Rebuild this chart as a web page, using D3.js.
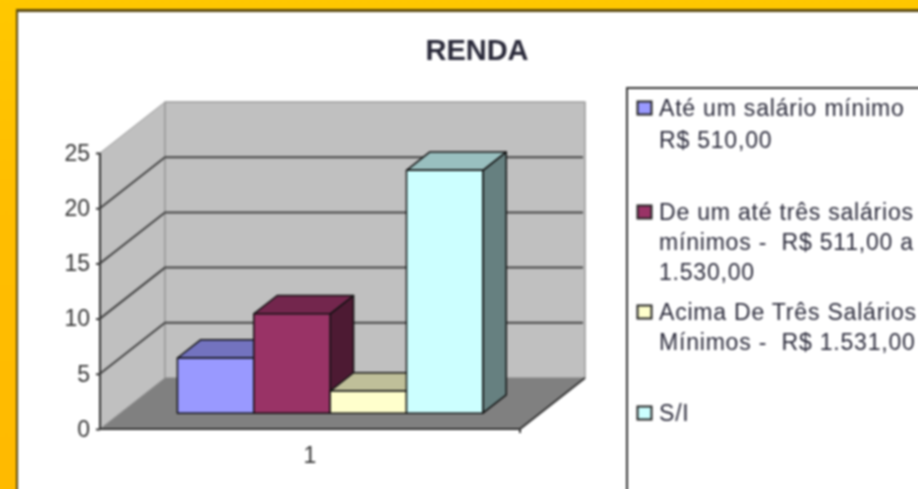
<!DOCTYPE html>
<html lang="pt">
<head>
<meta charset="utf-8">
<title>RENDA</title>
<script src="https://d3js.org/d3.v7.min.js"></script>
<style>
    html, body { margin: 0; padding: 0; overflow: hidden; background: #fff; }
    svg { display: block; font-family: "Liberation Sans", Arial, sans-serif; }
    text { fill: #222; white-space: pre; }
</style>
</head>
<body>
<div id="chart"></div>
<script>
    // values
    var categories = ["Até um salário mínimo", "De um até três salários mínimos", "Acima De Três Salários Mínimos", "S/I"];
    var values = [5, 9, 2, 22];
    var colors = ["#9999ff", "#993366", "#ffffcc", "#ccffff"];
    var yTicks = [0, 5, 10, 15, 20, 25];
    var xLabels = ["1"];
    var legendLines = [
        ["Até um salário mínimo", "R$ 510,00"],
        ["De um até três salários", "mínimos -  R$ 511,00 a", "1.530,00"],
        ["Acima De Três Salários", "Mínimos -  R$ 1.531,00"],
        ["S/I"]
    ];
    var legendRows = [108, 212, 312, 413];

    var width = 918, height = 489;

    var svg = d3.select("#chart").append("svg")
        .attr("width", width).attr("height", height);

    var defs = svg.append("defs");
    var bg = defs.append("linearGradient").attr("id", "bg")
        .attr("x1", 0).attr("y1", 0).attr("x2", 0).attr("y2", 1);
    bg.append("stop").attr("offset", 0).attr("stop-color", "#ffc800");
    bg.append("stop").attr("offset", 0.4).attr("stop-color", "#ffbe00");
    bg.append("stop").attr("offset", 1).attr("stop-color", "#ffba00");

    var page = svg.append("g").style("filter", "blur(0.8px)");

    // frame
    page.append("rect").attr("x", -4).attr("y", -4).attr("width", width + 8).attr("height", height + 8).attr("fill", "url(#bg)");
    page.append("rect").attr("x", 16).attr("y", 9).attr("width", width).attr("height", height)
        .attr("fill", "#5c4a10");
    page.append("rect").attr("x", 18).attr("y", 12).attr("width", width).attr("height", height)
        .attr("fill", "#fff");

    page.append("text").attr("x", 477).attr("y", 60).attr("text-anchor", "middle")
        .style("font-size", "29px").style("font-weight", "bold").style("fill", "#2a2a3a")
        .text("RENDA");

    // scales, front plane of the box
    var x = d3.scaleBand().domain(categories).range([100, 520]).paddingInner(0).paddingOuter(0.75);
    var y = d3.scaleLinear().domain([0, 25]).range([429, 153]);
    var depthX = 65, depthY = -51;

    // oblique projection: v on the value axis, px along x, z from 0 (front) to 1 (back)
    function pt(px, v, z) {
        return [px + z * depthX, y(v) + z * depthY];
    }
    function poly(g, points, fill, stroke, sw) {
        return g.append("polygon")
            .attr("points", points.map(function (p) { return p.join(","); }).join(" "))
            .attr("fill", fill)
            .attr("stroke", stroke || "none")
            .attr("stroke-width", sw || 0)
            .attr("stroke-linejoin", "round");
    }
    function shade(c, k) {
        var r = d3.rgb(c);
        return d3.rgb(r.r * k, r.g * k, r.b * k).formatHex();
    }

    var plot = page.append("g");
    var x0 = 100, x1 = 520;

    // walls and floor
    poly(plot, [pt(x0, 0, 0), pt(x0, 25, 0), pt(x0, 25, 1), pt(x0, 0, 1)], "#c0c0c0", "#999", 1);
    poly(plot, [pt(x0, 0, 1), pt(x0, 25, 1), pt(x1, 25, 1), pt(x1, 0, 1)], "#c0c0c0", "#999", 1.5);
    poly(plot, [pt(x0, 0, 0), pt(x1, 0, 0), pt(x1, 0, 1), pt(x0, 0, 1)], "#808080");

    // gridlines
    var line = d3.line();
    yTicks.filter(function (d) { return d > 0 && d < 25; }).forEach(function (d) {
        plot.append("path").attr("d", line([pt(x0, d, 0), pt(x0, d, 1), pt(x1 - 2, d, 1)]))
            .attr("fill", "none").attr("stroke", "#444").attr("stroke-width", 2);
    });

    // bars
    var zFront = 0.31, zBack = 0.67;
    categories.forEach(function (c, i) {
        var l = x(c), r = l + x.bandwidth(), v = values[i], col = colors[i];
        var g = plot.append("g");
        poly(g, [pt(r, 0, zFront), pt(r, v, zFront), pt(r, v, zBack), pt(r, 0, zBack)], shade(col, 0.5), "#111", 1.5);
        poly(g, [pt(l, v, zFront), pt(r, v, zFront), pt(r, v, zBack), pt(l, v, zBack)], shade(col, 0.75), "#111", 1.5);
        poly(g, [pt(l, 0, zFront), pt(r, 0, zFront), pt(r, v, zFront), pt(l, v, zFront)], col, "#111", 1.5);
    });

    // axes on top of the box
    plot.append("path").attr("d", line([pt(x0, 25, 0), pt(x0, 0, 0), pt(x1, 0, 0), pt(x1, 0, 1)]))
        .attr("fill", "none").attr("stroke", "#333").attr("stroke-width", 2);

    var yAxis = d3.axisLeft(y).tickValues(yTicks).tickSize(4).tickPadding(6);
    var yG = page.append("g").attr("transform", "translate(" + x0 + ",0)").call(yAxis);
    yG.select(".domain").remove();
    yG.selectAll("line").attr("stroke", "#333").attr("stroke-width", 2);
    yG.selectAll("text").style("font-size", "23px").style("fill", "#333");

    var xBottom = d3.scaleBand().domain(xLabels).range([x0, x1]);
    var xAxis = d3.axisBottom(xBottom).tickSize(0).tickPadding(18);
    var xG = page.append("g").attr("transform", "translate(0," + y(0) + ")").call(xAxis);
    xG.select(".domain").remove();
    xG.selectAll("text").style("font-size", "23px").style("fill", "#333");
    page.append("line").attr("x1", x1).attr("x2", x1).attr("y1", y(0)).attr("y2", y(0) + 4)
        .attr("stroke", "#333").attr("stroke-width", 2);

    // legend, runs off the right and bottom of the picture
    var legend = page.append("g");
    legend.append("rect").attr("x", 627).attr("y", 88).attr("width", 400).attr("height", 500)
        .attr("fill", "#fff").attr("stroke", "#333").attr("stroke-width", 2);

    legendLines.forEach(function (lines, i) {
        var cy = legendRows[i];
        legend.append("rect").attr("x", 637.5).attr("y", cy - 6.5).attr("width", 14).attr("height", 13)
            .attr("fill", colors[i]).attr("stroke", "#222").attr("stroke-width", 2);
        lines.forEach(function (t, j) {
            var gap = i === 0 ? 32 : 30;
            legend.append("text").attr("x", 659).attr("y", cy + j * gap + 8)
                .style("font-size", "23px").style("letter-spacing", "0.8px").style("fill", "#2a2a3a")
                .text(t);
        });
    });
</script>
</body>
</html>
